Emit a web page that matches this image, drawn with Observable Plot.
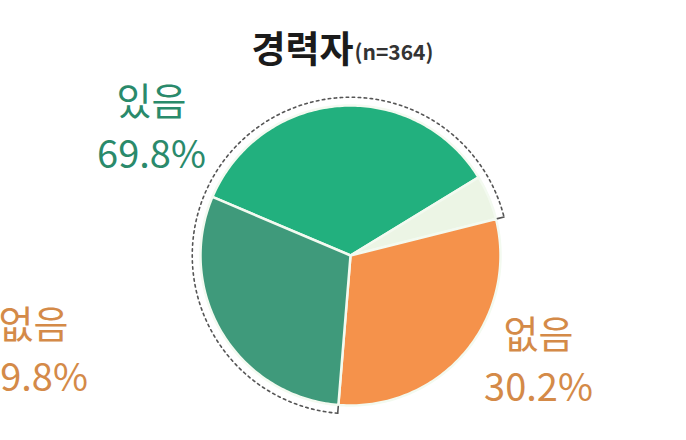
<!DOCTYPE html>
<html><head><meta charset="utf-8">
<script src="https://cdn.jsdelivr.net/npm/d3@7"></script>
<script src="https://cdn.jsdelivr.net/npm/@observablehq/plot@0.6"></script>
<style>body{margin:0;background:#fff;overflow:hidden}</style>
</head><body><div id="chart"></div>
<script>
// ---- data ----
const sliceNames = ["있음-1", "있음-2", "없음", "있음-3"];
const sliceValues = [34.9, 4.8, 30.2, 30.1];
const sliceColors = ["#22b07e", "#ecf5e5", "#f5924b", "#3f9a7b"];
const groupNames = ["있음", "없음"];
const groupValues = [69.8, 30.2];
const otherGroupName = "없음";
const otherGroupValue = 29.8;
const titleText = "경력자";
const subtitleText = "(n=364)";

// ---- layout ----
const W = 686, H = 440, CX = 350, CY = 255, R = 150;
const startDeg = -67;
const ux = px => (px - CX) / R;
const uy = py => (CY - py) / R;
const pt = (deg, r) => [r * Math.sin(deg * Math.PI / 180), r * Math.cos(deg * Math.PI / 180)];

// slices as polygons computed from values
const total = d3.sum(sliceValues);
const polys = [];
let acc = startDeg;
const bounds = [];
sliceValues.forEach((v, i) => {
  const a0 = acc, a1 = acc + 360 * v / total;
  bounds.push([a0, a1]);
  polys.push({name: sliceNames[i], x: 0, y: 0});
  const n = Math.max(2, Math.ceil(a1 - a0));
  for (let k = 0; k <= n; k++) {
    const [x, y] = pt(a0 + (a1 - a0) * k / n, 1);
    polys.push({name: sliceNames[i], x, y});
  }
  polys.push({name: sliceNames[i], x: 0, y: 0});
  acc = a1;
});

// dashed arc around the "있음" group (slices 3 -> 0 -> 1, contiguous)
const arcStart = bounds[3][0], arcEnd = bounds[1][1] + 360;
const RA = 1.055;
const arc = d3.range(arcStart, arcEnd + 0.001, 1).map(a => { const [x, y] = pt(a, RA); return {x, y}; });
const ticks = [arcStart, arcEnd].flatMap((a, i) => {
  const [x1, y1] = pt(a, RA), [x2, y2] = pt(a, 1.01);
  return [{x: x1, y: y1, t: i}, {x: x2, y: y2, t: i}];
});

const fmt = v => v.toFixed(1) + "%";
const labels = [
  {x: ux(151), y: uy(167), text: groupNames[0] + "\n" + fmt(groupValues[0]), c: "#2a8a6b"},
  {x: ux(538), y: uy(400), text: groupNames[1] + "\n" + fmt(groupValues[1]), c: "#d48a48"},
  {x: ux(33), y: uy(390), text: otherGroupName + "\n" + fmt(otherGroupValue), c: "#d48a48"}
];

const chart = Plot.plot({
  width: W, height: H,
  margin: 0,
  x: {domain: [ux(0), ux(W)], axis: null},
  y: {domain: [uy(H), uy(0)], axis: null},
  color: {domain: sliceNames, range: sliceColors},
  style: {fontFamily: "'Noto Sans CJK KR', 'Noto Sans', sans-serif", background: "#fff"},
  marks: [
    Plot.line(polys, {x: "x", y: "y", z: "name", fill: "name", stroke: "#f3faf0", strokeWidth: 2.5, strokeLinejoin: "round", curve: "linear"}),
    Plot.line(arc, {x: "x", y: "y", stroke: "#555", strokeWidth: 1.6, strokeDasharray: "2.5,3.5"}),
    Plot.line(ticks, {x: "x", y: "y", z: "t", stroke: "#555", strokeWidth: 1.6}),
    Plot.text(labels, {x: "x", y: "y", text: "text", fill: "c", fontSize: 38, lineAnchor: "bottom", lineHeight: 1.39, textAnchor: "middle", letterSpacing: "-1.5px"}),
    Plot.text([titleText], {x: ux(251), y: uy(62), text: d => d, fontSize: 37, fontWeight: "bold", fill: "#1b1b1b", textAnchor: "start", lineAnchor: "bottom", letterSpacing: "-1px"}),
    Plot.text([subtitleText], {x: ux(354), y: uy(59), text: d => d, fontSize: 21, fontWeight: "bold", fill: "#333", textAnchor: "start", lineAnchor: "bottom", letterSpacing: "1.2px"})
  ]
});
document.getElementById("chart").append(chart);
</script>
</body></html>
